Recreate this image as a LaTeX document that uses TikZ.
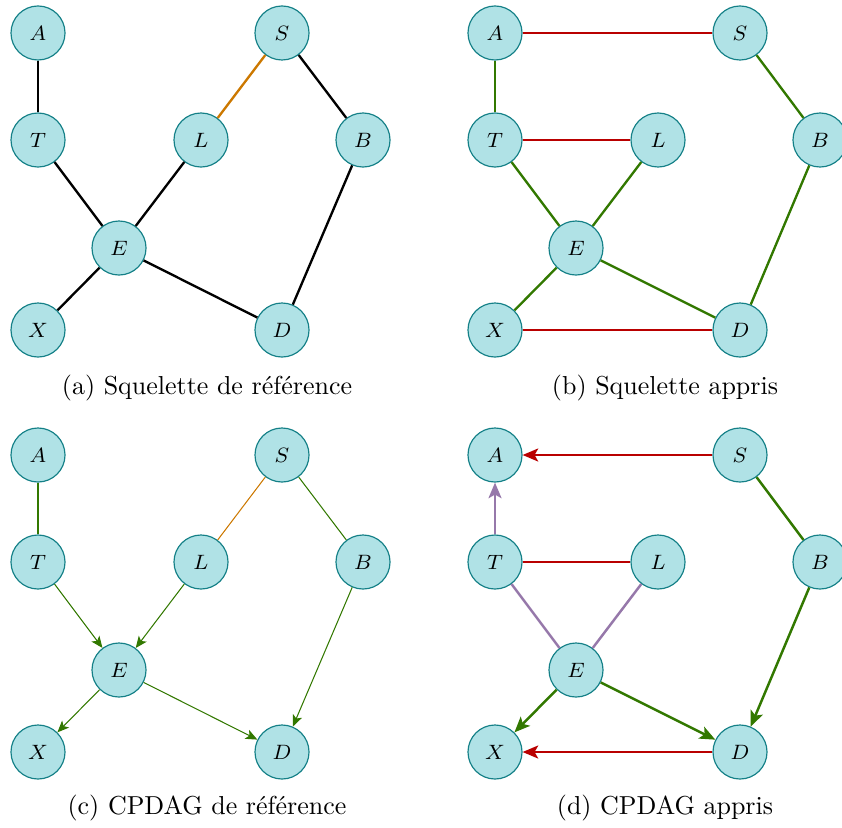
\documentclass[tikz,border=0pt]{standalone}
\usetikzlibrary{arrows.meta}
\definecolor{nodefill}{RGB}{176,226,230}
\definecolor{nodedraw}{RGB}{20,128,135}
\definecolor{eorange}{RGB}{204,120,0}
\definecolor{egreen}{RGB}{50,120,0}
\definecolor{ered}{RGB}{185,0,0}
\definecolor{epurple}{RGB}{150,120,170}
\tikzset{
  vnode/.style={circle,draw=nodedraw,fill=nodefill,line width=0.45pt,minimum size=20.8pt,inner sep=0pt,font=\footnotesize},
  ea/.style={line width=0.9pt},
  eb/.style={line width=0.9pt},
  ec/.style={line width=0.4pt},
  ed/.style={line width=0.95pt},
  arr/.style={-{Stealth[length=6pt,width=5pt,inset=1.4pt]}},
  arrc/.style={-{Stealth[length=4.5pt,width=3.8pt,inset=1.1pt]}},
  captext/.style={font=\normalsize}
}
\begin{document}
\begin{tikzpicture}[x=0.385pt,y=-0.385pt]
\useasboundingbox (0,0) rectangle (842,827);
% panel (a)
\node[vnode] (aA) at (38,33) {$A$};
\node[vnode] (aS) at (282,33) {$S$};
\node[vnode] (aT) at (38,140) {$T$};
\node[vnode] (aL) at (201,140) {$L$};
\node[vnode] (aB) at (363,140) {$B$};
\node[vnode] (aE) at (119,248) {$E$};
\node[vnode] (aX) at (38,330) {$X$};
\node[vnode] (aD) at (282,330) {$D$};
\draw[ea] (aA) -- (aT);
\draw[ea,eorange] (aS) -- (aL);
\draw[ea] (aS) -- (aB);
\draw[ea] (aT) -- (aE);
\draw[ea] (aL) -- (aE);
\draw[ea] (aB) -- (aD);
\draw[ea] (aE) -- (aX);
\draw[ea] (aE) -- (aD);
\node[captext] (capa) at (207,388) {(a) Squelette de référence};
% panel (b)
\node[vnode] (bA) at (495,33) {$A$};
\node[vnode] (bS) at (740,33) {$S$};
\node[vnode] (bT) at (495,140) {$T$};
\node[vnode] (bL) at (658,140) {$L$};
\node[vnode] (bB) at (820,140) {$B$};
\node[vnode] (bE) at (576,248) {$E$};
\node[vnode] (bX) at (495,330) {$X$};
\node[vnode] (bD) at (740,330) {$D$};
\draw[eb,ered] (bA) -- (bS);
\draw[eb,egreen] (bA) -- (bT);
\draw[eb,ered] (bT) -- (bL);
\draw[eb,egreen] (bT) -- (bE);
\draw[eb,egreen] (bL) -- (bE);
\draw[eb,egreen] (bS) -- (bB);
\draw[eb,egreen] (bB) -- (bD);
\draw[eb,egreen] (bE) -- (bX);
\draw[eb,egreen] (bE) -- (bD);
\draw[eb,ered] (bX) -- (bD);
\node[captext] (capb) at (665,388) {(b) Squelette appris};
% panel (c)
\node[vnode] (cA) at (38,455) {$A$};
\node[vnode] (cS) at (282,455) {$S$};
\node[vnode] (cT) at (38,562) {$T$};
\node[vnode] (cL) at (201,562) {$L$};
\node[vnode] (cB) at (363,562) {$B$};
\node[vnode] (cE) at (119,670) {$E$};
\node[vnode] (cX) at (38,752) {$X$};
\node[vnode] (cD) at (282,752) {$D$};
\draw[ec,egreen] (cA) -- (cT);
\draw[ec,eorange] (cS) -- (cL);
\draw[ec,egreen] (cS) -- (cB);
\draw[ec,egreen,arrc] (cT) -- (cE);
\draw[ec,egreen,arrc] (cL) -- (cE);
\draw[ec,egreen,arrc] (cB) -- (cD);
\draw[ec,egreen,arrc] (cE) -- (cX);
\draw[ec,egreen,arrc] (cE) -- (cD);
\node[captext] (capc) at (207,808) {(c) CPDAG de référence};
% panel (d)
\node[vnode] (dA) at (495,455) {$A$};
\node[vnode] (dS) at (740,455) {$S$};
\node[vnode] (dT) at (495,562) {$T$};
\node[vnode] (dL) at (658,562) {$L$};
\node[vnode] (dB) at (820,562) {$B$};
\node[vnode] (dE) at (576,670) {$E$};
\node[vnode] (dX) at (495,752) {$X$};
\node[vnode] (dD) at (740,752) {$D$};
\draw[ed,ered,arr] (dS) -- (dA);
\draw[ed,epurple,arr] (dT) -- (dA);
\draw[ed,ered] (dT) -- (dL);
\draw[ed,epurple] (dT) -- (dE);
\draw[ed,epurple] (dL) -- (dE);
\draw[ed,egreen] (dS) -- (dB);
\draw[ed,egreen,arr] (dB) -- (dD);
\draw[ed,egreen,arr] (dE) -- (dX);
\draw[ed,egreen,arr] (dE) -- (dD);
\draw[ed,ered,arr] (dD) -- (dX);
\node[captext] (capd) at (665,808) {(d) CPDAG appris};
\end{tikzpicture}
\end{document}
